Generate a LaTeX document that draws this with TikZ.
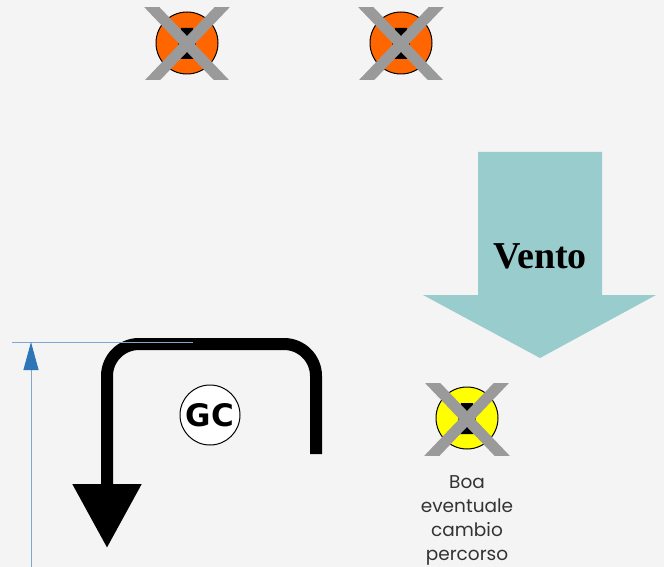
\documentclass[tikz,border=0pt]{standalone}
\usepackage{fontspec}
\newfontfamily\labelfont{Poppins}
\newfontfamily\ventofont{Liberation Serif}
\newfontfamily\gcfont{DejaVu Sans}
\usetikzlibrary{arrows.meta,positioning,shapes.geometric}
\definecolor{bgcol}{HTML}{F4F4F4}
\definecolor{boaorange}{HTML}{FF6600}
\definecolor{boayellow}{HTML}{FFFF00}
\definecolor{crossgray}{HTML}{9A9A9A}
\definecolor{ventocol}{HTML}{99CCCC}
\definecolor{quotacol}{HTML}{7FA7CF}
\definecolor{quotaarrow}{HTML}{2E75B6}

\tikzset{
  boa/.style={circle, draw=black, line width=1pt, minimum size=62pt, inner sep=0pt},
  crossmark/.style={crossgray, line width=11pt},
  quota/.style={quotacol, line width=1pt},
}

% triangolo nero e croce grigia sopra una boa
\newcommand{\segnaboa}[1]{%
  \fill[black] ([shift={(-6,-15)}]#1.center) -- ([shift={(6,-15)}]#1.center)
    -- ([shift={(11,16)}]#1.center) -- ([shift={(-11,16)}]#1.center) -- cycle;
  \begin{scope}
    \clip ([shift={(-48,-35)}]#1.center) rectangle ([shift={(48,37)}]#1.center);
    \draw[crossmark] ([shift={(-42,-43)}]#1.center) -- ([shift={(42,45)}]#1.center);
    \draw[crossmark] ([shift={(42,-43)}]#1.center) -- ([shift={(-42,45)}]#1.center);
  \end{scope}}

\begin{document}
\begin{tikzpicture}[x=1pt,y=-1pt]
\useasboundingbox (0,0) rectangle (664,567);
\fill[bgcol] (0,0) rectangle (664,567);

% boe
\node[boa, fill=boaorange] (boa1) at (187,43) {};
\node[boa, fill=boaorange] (boa2) at (401,43) {};
\node[boa, fill=boayellow, minimum height=54pt] (boa3) at (467,418) {};
\segnaboa{boa1}
\segnaboa{boa2}
\segnaboa{boa3}

\node[align=center, text=black!80, font=\labelfont\fontsize{18.5}{24}\selectfont]
  (boatext) at (467,520) {Boa\\eventuale\\cambio\\percorso};

% vento
\fill[ventocol] (478,152) -- (602,152) -- (602,295) -- (656,295)
  -- (540,358) -- (423,295) -- (478,295) -- cycle;
\node[font=\ventofont\bfseries\fontsize{38}{38}\selectfont] (vento) at (540,256) {Vento};

% percorso
\coordinate (gcstart) at (316,454);
\coordinate (gccorner) at (107,344);
\coordinate (gcend) at (107,548);
\draw[line width=12pt, rounded corners=32pt, -{Triangle[length=64pt,width=66pt]}]
  (gcstart) |- (gccorner) -- (gcend);

\node[circle, draw, fill=white, line width=1pt, minimum size=60pt, inner sep=0pt,
  font=\gcfont\bfseries\fontsize{31}{31}\selectfont] (gc) at (210,415) {GC};

% quota
\coordinate (quotaleft) at (12,342);
\coordinate (quotaright) at (193,342);
\coordinate (quotatop) at (31,342);
\coordinate (quotabottom) at (31,567);
\draw[quota] (quotaleft) -- (quotaright);
\draw[quota, -{Triangle[length=28pt,width=15pt,color=quotaarrow]}] (quotabottom) -- (quotatop);
\end{tikzpicture}
\end{document}
